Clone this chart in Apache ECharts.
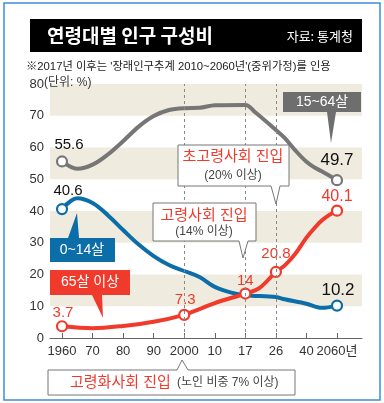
<!DOCTYPE html>
<html><head><meta charset="utf-8">
<script src="https://cdn.jsdelivr.net/npm/echarts@6/dist/echarts.min.js"></script>
<style>html,body{margin:0;padding:0;background:#fff}#c{width:384px;height:403px}</style>
</head><body><div id="c"></div>
<script>
// Category ticks on the x axis
var tickYears = [1960, 1970, 1980, 1990, 2000, 2010, 2017, 2026, 2040, 2060];
var tickLabels = ['1960', '70', '80', '90', '2000', '10', '17', '26', '40', '2060년'];
var yTicks = [0, 10, 20, 30, 40, 50, 60, 70, 80];

// 15~64살
var workYears = [1960, 1965, 1970, 1975, 1980, 1985, 1990, 1995, 2000, 2005, 2010, 2017, 2020, 2026, 2030, 2035, 2040, 2045, 2050, 2060];
var workVals  = [55.6, 53.3, 54.6, 57.8, 62.0, 66.5, 69.9, 71.8, 72.4, 72.5, 73.3, 73.4, 71.0, 65.5, 63.0, 59.0, 55.5, 53.8, 52.5, 49.7];
// 0~14살
var childYears = [1960, 1965, 1970, 1975, 1980, 1985, 1990, 1995, 2000, 2005, 2010, 2014, 2017, 2026, 2030, 2040, 2050, 2060];
var childVals  = [40.6, 44.0, 42.5, 38.7, 34.0, 29.5, 25.8, 23.0, 21.1, 19.2, 16.1, 14.2, 13.5, 12.9, 12.2, 10.8, 9.5, 10.2];
// 65살 이상
var oldYears = [1960, 1970, 1980, 1990, 2000, 2005, 2010, 2017, 2021, 2026, 2030, 2035, 2040, 2045, 2050, 2055, 2060];
var oldVals  = [3.7, 3.1, 3.8, 5.1, 7.3, 9.1, 11.0, 14.0, 15.6, 20.8, 22.8, 26.6, 31.6, 34.5, 37.0, 38.8, 40.1];

// labelled / marked points
var workMarks = [1960, 2060];
var childMarks = [1960, 2060];
var oldMarks = [1960, 2000, 2017, 2026, 2060];
var dashedYears = [2000, 2017, 2026];

var FONT = "'Liberation Sans', 'Noto Sans CJK KR', sans-serif";
var KFONT = "'Noto Sans CJK KR', sans-serif";
var GRAY = '#767676', BLUE = '#0b6ea8', RED = '#f03a2b';

function yearIdx(y) {
  for (var i = 0; i < tickYears.length - 1; i++) {
    if (y <= tickYears[i + 1]) return i + (y - tickYears[i]) / (tickYears[i + 1] - tickYears[i]);
  }
  return tickYears.length - 1;
}

function build(years, vals, marks, color, labelCfg) {
  return years.map(function (y, i) {
    var item = { value: [yearIdx(y), vals[i]] };
    if (marks.indexOf(y) >= 0) {
      item.symbol = 'circle';
      var lc = labelCfg[y];
      if (lc) {
        item.label = {
          show: true, position: 'top', distance: lc.d, offset: [lc.ox || 0, 0],
          color: lc.color, fontSize: lc.fs, fontFamily: FONT,
          formatter: function (p) { return String(p.value[1]); }
        };
      }
    } else {
      item.symbol = 'none';
    }
    return item;
  });
}

var workData = build(workYears, workVals, workMarks, GRAY, {
  1960: { d: 3, ox: 7, color: '#111', fs: 15 },
  2060: { d: 5, ox: 0, color: '#111', fs: 17 }
});
var childData = build(childYears, childVals, childMarks, BLUE, {
  1960: { d: 5, ox: 6, color: '#111', fs: 15 },
  2060: { d: 1, ox: 1, color: '#111', fs: 17 }
});
var oldData = build(oldYears, oldVals, oldMarks, RED, {
  1960: { d: 0, ox: 1, color: RED, fs: 15 },
  2000: { d: 1, ox: 1, color: RED, fs: 15 },
  2017: { d: -1, ox: 0, color: RED, fs: 15 },
  2026: { d: 5, ox: 0, color: RED, fs: 15 },
  2060: { d: 0, ox: 0, color: RED, fs: 16 }
});

function lineSeries(name, data, color, extra) {
  var s = {
    name: name, type: 'line', data: data, smooth: 0.35, showAllSymbol: true,
    symbolSize: 10, lineStyle: { color: color, width: 4 },
    itemStyle: { color: '#fff', borderColor: color, borderWidth: 2.2 },
    emphasis: { disabled: true }, silent: true, animation: false
  };
  for (var k in extra) s[k] = extra[k];
  return s;
}

function bubble(x0, y0, x1, y1, side, pl, pr, tx, ty) {
  if (side === 'bottom') return [[x0, y0], [x1, y0], [x1, y1], [pr, y1], [tx, ty], [pl, y1], [x0, y1]];
  return [[x0, y0], [pl, y0], [tx, ty], [pr, y0], [x1, y0], [x1, y1], [x0, y1]];
}
function poly(points, fill, stroke) {
  return { type: 'polygon', z: 100, shape: { points: points },
    style: { fill: fill, stroke: stroke || null, lineWidth: stroke ? 1 : 0 } };
}
function txt(x, y, text, size, color, align, weight, family) {
  return { type: 'text', z: 101, x: x, y: y,
    style: { text: text, fill: color, font: (weight || 'normal') + ' ' + size + 'px ' + (family || FONT),
      align: align || 'center', verticalAlign: 'middle' } };
}

var chart = echarts.init(document.getElementById('c'), null, { renderer: 'canvas' });
chart.setOption({
  animation: false,
  textStyle: { fontFamily: FONT },
  grid: { left: 50, right: 22, top: 84, bottom: 65 },
  xAxis: {
    type: 'value', min: -0.393, max: 9.818,
    axisLine: { show: true, lineStyle: { color: '#666', width: 1 } },
    axisTick: { show: true, inside: true, length: 5, lineStyle: { color: '#666' },
      customValues: tickYears.map(function (y, i) { return i; }) },
    axisLabel: { show: true, color: '#333', fontSize: 13, margin: 7, fontFamily: FONT,
      customValues: tickYears.map(function (y, i) { return i; }),
      formatter: function (v) { return tickLabels[Math.round(v)]; } },
    splitLine: { show: false }
  },
  yAxis: {
    type: 'value', min: yTicks[0], max: yTicks[yTicks.length - 1], interval: 10,
    axisLine: { show: false }, axisTick: { show: false },
    axisLabel: { color: '#333', fontSize: 13, margin: 6, fontFamily: FONT },
    splitLine: { show: false },
    splitArea: { show: true, areaStyle: { color: ['rgba(255,255,255,0)', '#efecdf'] } }
  },
  series: [
    lineSeries('15~64살', workData, GRAY, {
      markLine: { silent: true, symbol: 'none', label: { show: false },
        lineStyle: { type: [3, 3], color: '#888', width: 1 },
        data: dashedYears.map(function (y) { return { xAxis: yearIdx(y) }; }) }
    }),
    lineSeries('0~14살', childData, BLUE, {}),
    lineSeries('65살 이상', oldData, RED, {})
  ],
  graphic: [
    { type: 'rect', z: 90, shape: { x: 4, y: 3, width: 376, height: 397 },
      style: { fill: null, stroke: '#3a8dde', lineWidth: 1.5 } },
    { type: 'rect', z: 100, shape: { x: 30, y: 19, width: 332, height: 33 }, style: { fill: '#000' } },
    txt(47, 36, '연령대별 인구 구성비', 19, '#fff', 'left', 'bold', KFONT),
    txt(353, 36, '자료: 통계청', 13, '#fff', 'right', 'normal', KFONT),
    txt(26, 67, "※2017년 이후는 '장래인구추계 2010~2060년'(중위가정)를 인용", 11.3, '#222', 'left'),
    txt(44, 83, '(단위: %)', 12, '#333', 'left'),

    poly(bubble(283, 92, 361, 112, 'bottom', 327, 336, 331, 143), '#6e6e6e'),
    txt(322, 102, '15~64살', 14, '#fff'),

    poly(bubble(50, 238, 115, 262, 'top', 68, 79, 77, 213), BLUE),
    txt(82, 250, '0~14살', 14, '#fff'),

    poly(bubble(50, 270, 130, 295, 'bottom', 92, 102, 103, 318), RED),
    txt(90, 282.5, '65살 이상', 14, '#fff'),

    poly(bubble(178, 145, 289, 186, 'bottom', 271, 280, 276, 204), '#fff', '#777'),
    txt(233, 157, '초고령사회 진입', 15, RED),
    txt(233, 176, '(20% 이상)', 12, '#444'),

    poly(bubble(153, 203, 256, 241, 'bottom', 239, 248, 243, 258), '#fff', '#777'),
    txt(204, 216, '고령사회 진입', 15, RED),
    txt(204, 232, '(14% 이상)', 12, '#444'),

    poly(bubble(48, 370, 295, 395, 'top', 177, 188, 182, 360), '#fff', '#777'),
    txt(70, 383, '고령화사회 진입', 15, RED, 'left'),
    txt(177, 383, '(노인 비중 7% 이상)', 12, '#444', 'left')
  ]
});
</script>
</body></html>
